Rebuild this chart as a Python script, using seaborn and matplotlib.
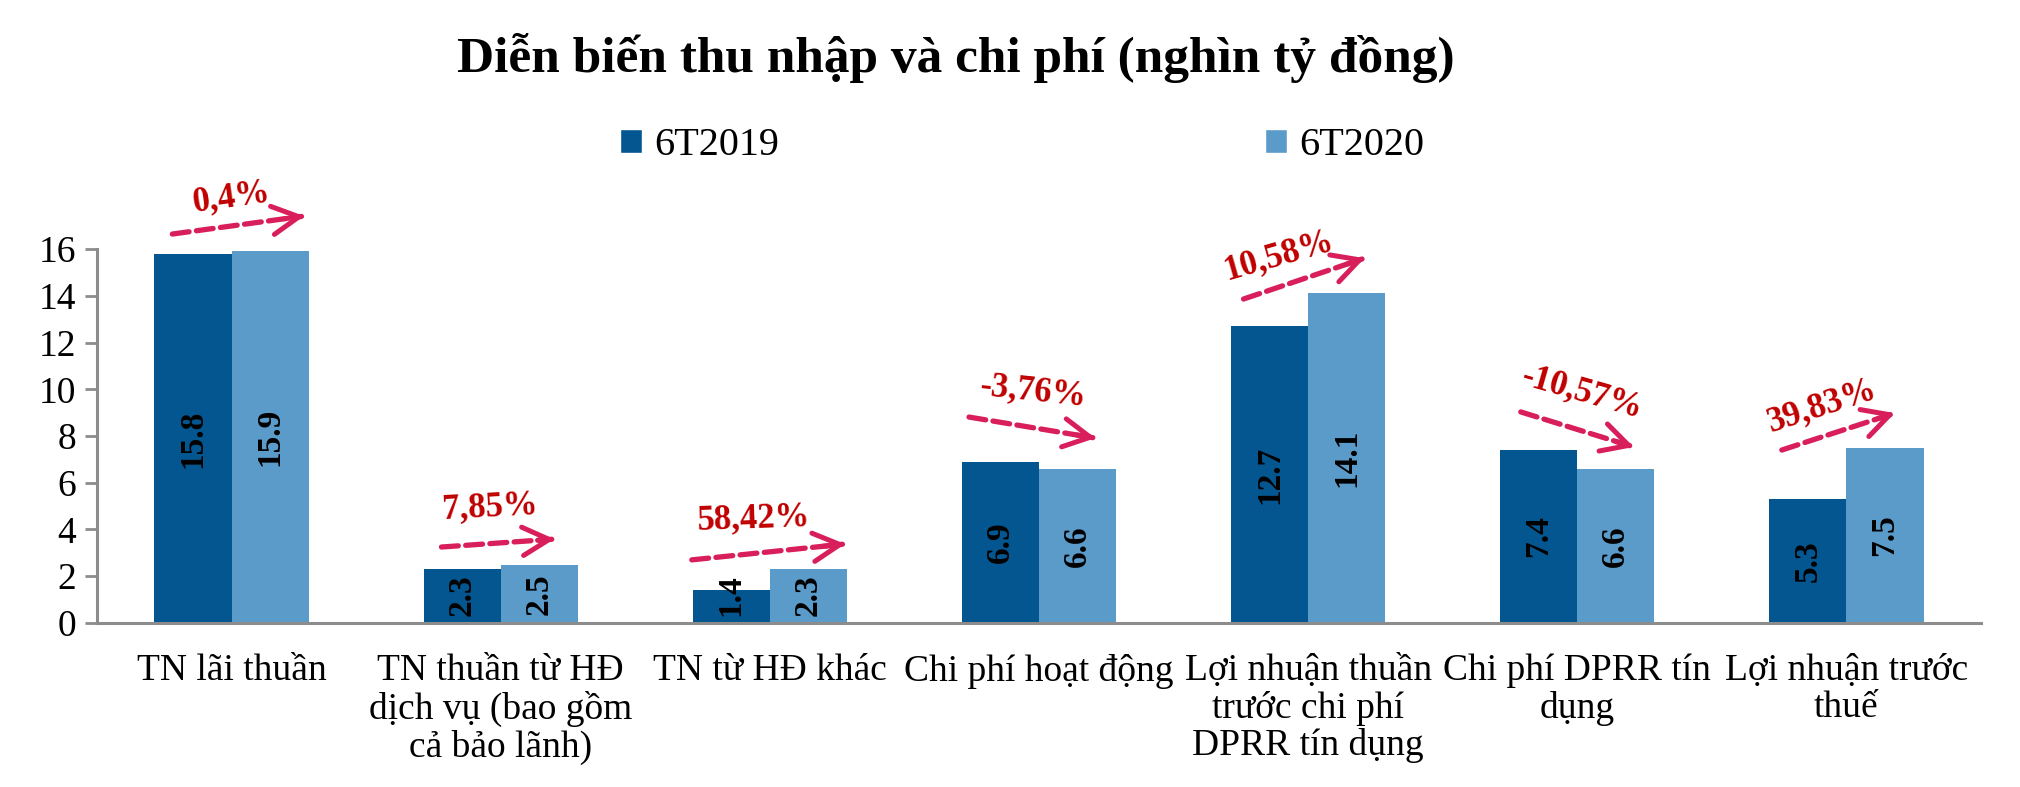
import matplotlib
matplotlib.use("Agg")
import matplotlib.pyplot as plt
from matplotlib.patches import Patch
import seaborn as sns
import pandas as pd

categories = [
    "TN lãi thuần",
    "TN thuần từ HĐ\ndịch vụ (bao gồm\ncả bảo lãnh)",
    "TN từ HĐ khác",
    "Chi phí hoạt động",
    "Lợi nhuận thuần\ntrước chi phí\nDPRR tín dụng",
    "Chi phí DPRR tín\ndụng",
    "Lợi nhuận trước\nthuế",
]
series_names = ["6T2019", "6T2020"]
values_2019 = [15.8, 2.3, 1.4, 6.9, 12.7, 7.4, 5.3]
values_2020 = [15.9, 2.5, 2.3, 6.6, 14.1, 6.6, 7.5]
pct_labels = ["0,4%", "7,85%", "58,42%", "-3,76%", "10,58%", "-10,57%", "39,83%"]
title = "Diễn biến thu nhập và chi phí (nghìn tỷ đồng)"
yticks = [0, 2, 4, 6, 8, 10, 12, 14, 16]

# annotation geometry (data coords): arrow start, arrow end, text center, rotation
arrow_start = [(-0.22, 16.64), (0.78, 3.25), (1.71, 2.70), (2.74, 8.81), (3.76, 13.86), (4.79, 9.03), (5.76, 7.40)]
arrow_end = [(0.27, 17.41), (1.20, 3.59), (2.28, 3.38), (3.21, 7.91), (4.21, 15.61), (5.21, 7.53), (6.18, 8.98)]
text_pos = [(0.0, 18.22), (0.96, 4.96), (1.94, 4.45), (2.98, 9.93), (3.89, 15.70), (5.02, 9.88), (5.91, 9.28)]
text_rot = [8, 3, 2, -6, 16, -16, 18]

DARK = "#03568F"
LIGHT = "#5B9BCA"
ARROW = "#D81E5B"
PCT = "#C00000"
GRAY = "#8C8C8C"

sns.set_theme(style="white")
plt.rcParams["font.family"] = ["Liberation Serif", "DejaVu Serif"]
plt.rcParams["text.color"] = "black"
plt.rcParams["xtick.color"] = "black"
plt.rcParams["ytick.color"] = "black"

df = pd.DataFrame({
    "cat": categories * 2,
    "period": [series_names[0]] * len(categories) + [series_names[1]] * len(categories),
    "val": values_2019 + values_2020,
})

fig = plt.figure(figsize=(20.2, 7.87), dpi=100)
ax = fig.add_axes([0.048, 0.2084, 0.9327, 0.4752])

sns.barplot(data=df, x="cat", y="val", hue="period", palette=[DARK, LIGHT],
            width=0.573, gap=0, saturation=1, legend=False, ax=ax, errorbar=None,
            linewidth=0, edgecolor="none")

ax.set_xlim(-0.5, len(categories) - 0.5)
ax.set_ylim(0, 16)
ax.set_yticks(yticks)
ax.set_yticklabels([str(v) for v in yticks], fontsize=27)
ax.set_xlabel("")
ax.set_ylabel("")
ax.set_xticks(range(len(categories)))
ax.set_xticklabels(categories, fontsize=27, linespacing=1.1)
ax.set_xticks([i - 0.5 for i in range(len(categories) + 1)], minor=True)
ax.tick_params(axis="x", which="major", length=0, pad=22)
ax.tick_params(axis="x", which="minor", length=10, width=2, color=GRAY, direction="out")
ax.tick_params(axis="y", length=9, width=2, color=GRAY, direction="out", pad=6, left=True)
for s in ["top", "right"]:
    ax.spines[s].set_visible(False)
for s in ["left", "bottom"]:
    ax.spines[s].set_color(GRAY)
    ax.spines[s].set_linewidth(2.2)
ax.grid(False)

# value labels
for cont in ax.containers:
    for bar in cont:
        h = bar.get_height()
        ax.text(bar.get_x() + bar.get_width() / 2, max(h / 2, 1.2), f"{h:.1f}",
                rotation=90, ha="center", va="center", fontsize=24,
                fontweight="bold", color="black")

# growth arrows
for (x0, y0), (x1, y1), (tx, ty), rot, lab in zip(arrow_start, arrow_end, text_pos, text_rot, pct_labels):
    ax.annotate("", xy=(x1, y1), xytext=(x0, y0), xycoords="data",
                arrowprops=dict(arrowstyle="-", linestyle=(0, (3.2, 1.4)), lw=3.8,
                                color=ARROW, shrinkA=0, shrinkB=2), annotation_clip=False)
    fx = x0 + (x1 - x0) * 0.85
    fy = y0 + (y1 - y0) * 0.85
    ax.annotate("", xy=(x1, y1), xytext=(fx, fy), xycoords="data",
                arrowprops=dict(arrowstyle="->,head_length=1.6,head_width=0.85", lw=3.6,
                                color=ARROW, shrinkA=0, shrinkB=0), annotation_clip=False)
    ax.text(tx, ty, lab, rotation=rot, ha="center", va="center", fontsize=25,
            fontweight="bold", color=PCT, rotation_mode="anchor", clip_on=False)

fig.text(0.473, 0.926, title, ha="center", va="center", fontsize=37, fontweight="bold")

handles = [Patch(facecolor=DARK), Patch(facecolor=LIGHT)]
fig.legend(handles, series_names, loc="center left", bbox_to_anchor=(0.307, 0.815),
           ncol=2, frameon=False, fontsize=29, handlelength=0.55, handleheight=0.55,
           handletextpad=0.3, columnspacing=12.05, borderaxespad=0, borderpad=0)

fig.savefig("out.png", dpi=100)
